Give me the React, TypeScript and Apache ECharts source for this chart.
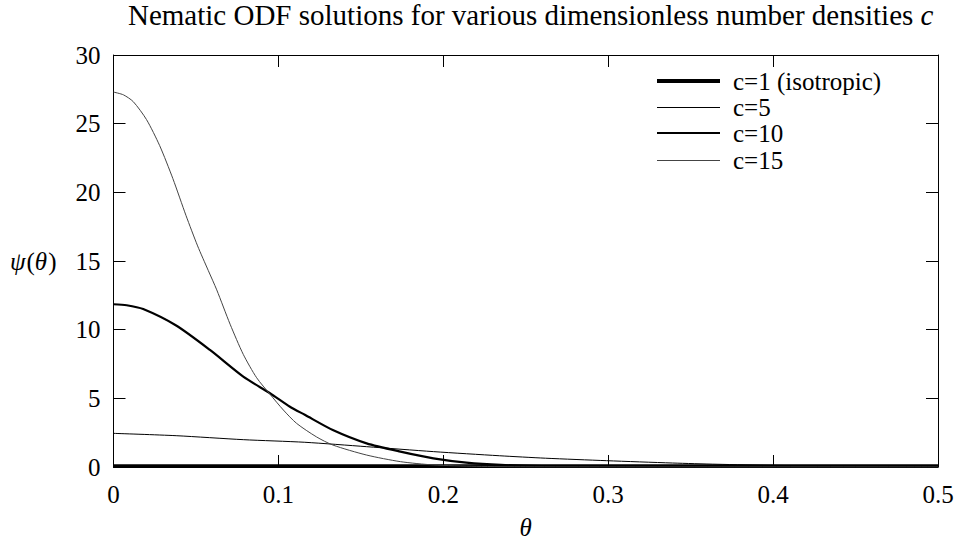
import React, { useEffect, useRef } from "react";
import * as echarts from "echarts";

const seriesNames = ["c=1 (isotropic)", "c=5", "c=10", "c=15"];

const theta1 = [0, 0.5];
const psi1 = [0.08, 0.08];

const theta5 = [0, 0.038, 0.0787, 0.116, 0.1535, 0.194, 0.234, 0.262, 0.299, 0.339, 0.366, 0.4, 0.45, 0.5];
const psi5 = [2.45, 2.28, 1.99, 1.8, 1.48, 1.12, 0.82, 0.64, 0.46, 0.29, 0.2, 0.12, 0.05, 0.02];

const theta10 = [0, 0.008, 0.018, 0.038, 0.0585, 0.0787, 0.0949, 0.107, 0.116, 0.133, 0.1535, 0.174, 0.194, 0.214, 0.235, 0.26, 0.3, 0.35, 0.5];
const psi10 = [11.85, 11.78, 11.5, 10.3, 8.52, 6.58, 5.37, 4.39, 3.8, 2.69, 1.72, 1.12, 0.63, 0.32, 0.15, 0.07, 0.02, 0.0, 0.0];

const theta15 = [0, 0.006, 0.012, 0.02, 0.028, 0.036, 0.044, 0.051, 0.0575, 0.0626, 0.0707, 0.0787, 0.0868, 0.0949, 0.103, 0.111, 0.123, 0.133, 0.1535, 0.174, 0.194, 0.22, 0.25, 0.3, 0.5];
const psi15 = [27.3, 27.1, 26.6, 25.3, 23.4, 21.0, 18.3, 16.1, 14.3, 12.9, 10.4, 8.2, 6.5, 5.3, 4.15, 3.18, 2.2, 1.6, 0.87, 0.39, 0.15, 0.05, 0.01, 0.0, 0.0];

const xTicks = [0, 0.1, 0.2, 0.3, 0.4, 0.5];
const yTicks = [0, 5, 10, 15, 20, 25, 30];

const titleMain = "Nematic ODF solutions for various dimensionless number densities ";
const titleVar = "c";
const xName = "θ";
const yNameParts = [
  { t: "ψ", italic: true },
  { t: "(", italic: false },
  { t: "θ", italic: true },
  { t: ")", italic: false },
];

const zip = (xs: number[], ys: number[]) => xs.map((x, i) => [x, ys[i]]);

const FONT = "Liberation Serif";
const FONT_CSS = `svg text, svg tspan { font-family: "Liberation Serif", "Times New Roman", serif !important; }`;

let measureCtx: CanvasRenderingContext2D | null = null;
function measure(text: string, size: number, italic = false) {
  if (!measureCtx) measureCtx = document.createElement("canvas").getContext("2d");
  if (!measureCtx) return text.length * size * 0.5;
  measureCtx.font = `${italic ? "italic " : ""}${size}px "${FONT}", serif`;
  return measureCtx.measureText(text).width;
}

export default function App() {
  const ref = useRef<HTMLDivElement>(null);
  useEffect(() => {
    if (!ref.current) return;
    document.body.style.margin = "0";
    const styleEl = document.createElement("style");
    styleEl.textContent = FONT_CSS;
    document.head.appendChild(styleEl);

    const chart = echarts.init(ref.current, undefined, { renderer: "svg" });
    const axisCommon = {
      type: "value" as const,
      axisLine: { show: true, onZero: false, lineStyle: { color: "#000", width: 1 } },
      axisTick: { show: true, inside: true, length: 12, lineStyle: { color: "#000", width: 1 } },
      axisLabel: { show: false },
      splitLine: { show: false },
    };
    const styles = [
      { width: 3.5, color: "#000" },
      { width: 1, color: "#000" },
      { width: 2.2, color: "#000" },
      { width: 1, color: "#444" },
    ];
    const datas = [zip(theta1, psi1), zip(theta5, psi5), zip(theta10, psi10), zip(theta15, psi15)];
    chart.setOption({
      animation: false,
      backgroundColor: "#fff",
      grid: { left: 113.5, right: 25, top: 55, bottom: 81, containLabel: false },
      xAxis: [
        { ...axisCommon, position: "bottom", min: 0, max: 0.5, interval: 0.1 },
        { ...axisCommon, position: "top", min: 0, max: 0.5, interval: 0.1 },
      ],
      yAxis: [
        { ...axisCommon, position: "left", min: 0, max: 30, interval: 5 },
        { ...axisCommon, position: "right", min: 0, max: 30, interval: 5 },
      ],
      series: seriesNames.map((name, k) => ({
        name,
        type: "line",
        xAxisIndex: 0,
        yAxisIndex: 0,
        data: datas[k],
        showSymbol: false,
        symbol: "none",
        smooth: 0.25,
        lineStyle: { width: styles[k].width, color: styles[k].color },
        itemStyle: { color: styles[k].color },
        z: 3,
      })),
    });

    const txt = (text: string, x: number, y: number, size: number, align: string, vAlign: string, italic = false) => {
      const style: any = {
        text,
        fontFamily: FONT,
        fontSize: size,
        fill: "#000",
        textAlign: align,
        verticalAlign: vAlign,
      };
      if (italic) style.fontStyle = "italic";
      return { type: "text", x, y, z: 20, style };
    };

    const g: any[] = [];
    const labelSize = 25;
    const x0 = chart.convertToPixel({ xAxisIndex: 0 }, 0) as number;
    const x1 = chart.convertToPixel({ xAxisIndex: 0 }, 0.5) as number;
    const y0 = chart.convertToPixel({ yAxisIndex: 0 }, 0) as number;
    xTicks.forEach((v) => {
      const px = chart.convertToPixel({ xAxisIndex: 0 }, v) as number;
      g.push(txt(String(v), px, y0 + 27, labelSize, "center", "middle"));
    });
    yTicks.forEach((v) => {
      const py = chart.convertToPixel({ yAxisIndex: 0 }, v) as number;
      g.push(txt(String(v), x0 - 13, py, labelSize, "right", "middle"));
    });
    g.push(txt(xName, (x0 + x1) / 2, y0 + 60, labelSize, "center", "middle", true));
    const yc = chart.convertToPixel({ yAxisIndex: 0 }, 15) as number;
    let cx = 10;
    yNameParts.forEach((p) => {
      g.push(txt(p.t, cx, yc, labelSize, "left", "middle", p.italic));
      cx += measure(p.t, labelSize, p.italic) + (p.italic ? 1 : 0);
    });
    const targetW = 817;
    const w27 = measure(titleMain, 27) + measure(titleVar, 27, true);
    const tSize = Math.min(29, Math.max(24, (27 * targetW) / w27));
    const wMain = measure(titleMain, tSize);
    g.push(txt(titleMain, 128, 15, tSize, "left", "middle"));
    g.push(txt(titleVar, 128 + wMain, 15, tSize, "left", "middle", true));
    const legendRows = [81, 107, 133, 160];
    seriesNames.forEach((name, k) => {
      const lw = k === 0 ? 4 : styles[k].width;
      const yy = lw % 2 === 1 ? legendRows[k] + 0.5 : legendRows[k];
      g.push({
        type: "line",
        z: 10,
        shape: { x1: 657, y1: yy, x2: 720, y2: yy },
        style: { stroke: styles[k].color, lineWidth: lw },
      });
      g.push(txt(name, 733, legendRows[k], labelSize, "left", "middle"));
    });
    chart.setOption({ graphic: g });
    return () => {
      chart.dispose();
      styleEl.remove();
    };
  }, []);
  return <div ref={ref} style={{ width: 963, height: 548 }} />;
}
